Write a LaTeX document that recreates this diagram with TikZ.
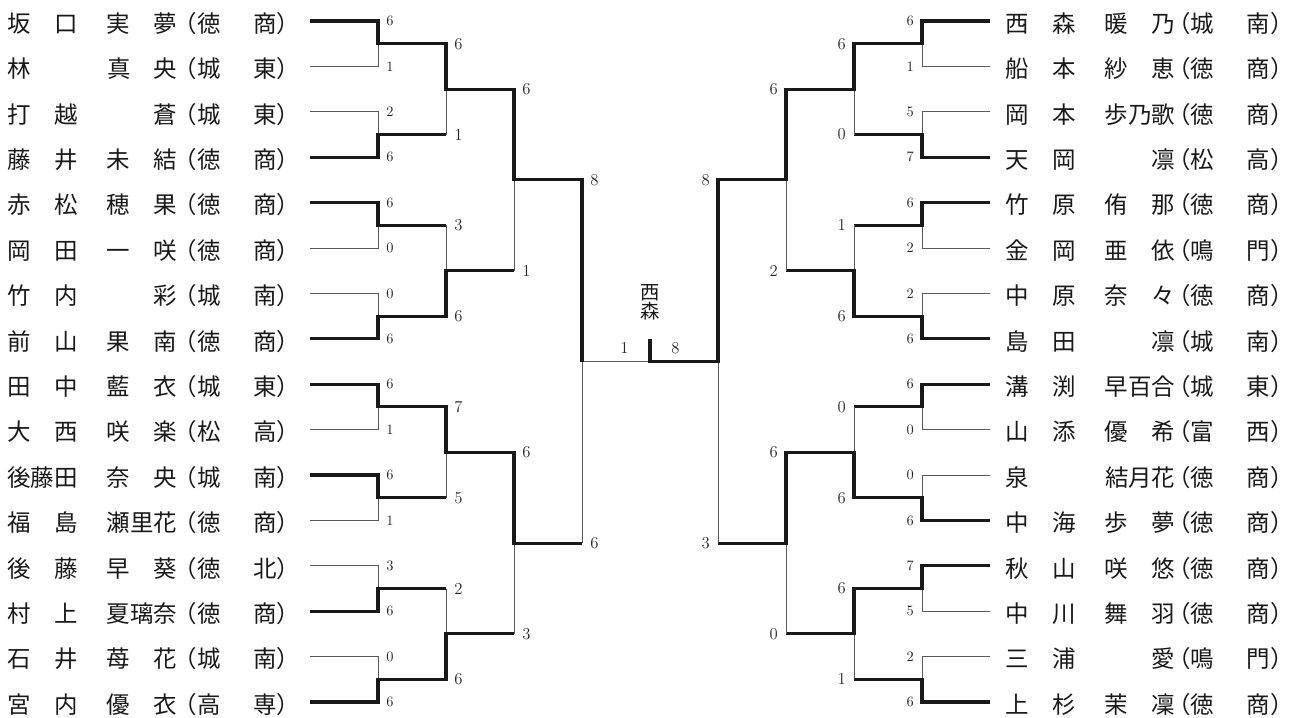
\documentclass[tikz,border=0pt]{standalone}
\usepackage{fontspec}
\usepackage{tikz}
\usepackage{xcolor}
\newfontfamily\jpfont{Noto Sans CJK JP}
\newfontfamily\jphalf[RawFeature=+halt]{Noto Sans CJK JP}
\newlength\pgap
\newcommand\entrant[6]{\makebox[3em][s]{#1\hfill #2}\hspace{1.25em}\makebox[3em][s]{#3\hfill #4}\hspace{\pgap}{\jphalf （}\makebox[3.4em][s]{#5\hfill #6}{\jphalf ）}}

\begin{document}
\begin{tikzpicture}[x=0.75pt,y=-34.05pt,
  win/.style={line width=2.3pt,black!90},
  lose/.style={line width=0.7pt,black!65},
  player/.style={font=\jpfont\fontsize{17.6}{20}\selectfont,inner sep=0pt,text=black!90},
  sc/.style={font=\fontsize{10.8}{12}\selectfont,inner sep=0pt,text=black!85},
  scb/.style={font=\fontsize{12.5}{14}\selectfont,inner sep=0pt,text=black!85}]
  \useasboundingbox (0,0.5374) rectangle (1296,16.352);
  \setlength\pgap{0.6em}
  \foreach \n/\a/\b/\c/\d/\e/\f in {1/坂/口/実/夢/徳/商,2/林//真/央/城/東,3/打/越//蒼/城/東,4/藤/井/未/結/徳/商,
    5/赤/松/穂/果/徳/商,6/岡/田/一/咲/徳/商,7/竹/内//彩/城/南,8/前/山/果/南/徳/商,
    9/田/中/藍/衣/城/東,10/大/西/咲/楽/松/高,11/後藤田//奈/央/城/南,12/福/島/瀬里花//徳/商,
    13/後/藤/早/葵/徳/北,14/村/上/夏璃奈//徳/商,15/石/井/苺/花/城/南,16/宮/内/優/衣/高/専} {
    \node[player,anchor=base west] (L\n) at (7,\n+0.25) {\entrant{\a}{\b}{\c}{\d}{\e}{\f}};
  }
  \setlength\pgap{0.25em}
  \foreach \n/\a/\b/\c/\d/\e/\f in {1/西/森/暖/乃/城/南,2/船/本/紗/恵/徳/商,3/岡/本/歩乃歌//徳/商,4/天/岡//凛/松/高,
    5/竹/原/侑/那/徳/商,6/金/岡/亜/依/鳴/門,7/中/原/奈/々/徳/商,8/島/田//凛/城/南,
    9/溝/渕/早百合//城/東,10/山/添/優/希/富/西,11/泉///結月花/徳/商,12/中/海/歩/夢/徳/商,
    13/秋/山/咲/悠/徳/商,14/中/川/舞/羽/徳/商,15/三/浦//愛/鳴/門,16/上/杉/茉/凜/徳/商} {
    \node[player,anchor=base west] (R\n) at (1005,\n+0.25) {\entrant{\a}{\b}{\c}{\d}{\e}{\f}};
  }

  \foreach \yw/\yl in {1/2,4/3,5/6,8/7,9/10,11/12,14/13,16/15} {
    \draw[lose] (310,\yl) -- (378,\yl) -- (378,{(\yw+\yl)/2});
    \draw[win] (310,\yw) -- (378,\yw) -- (378,{(\yw+\yl)/2}) -- (446,{(\yw+\yl)/2});
  }
  \foreach \xo/\xa/\xb/\yw/\yl in {378/446/514/1.5/3.5,378/446/514/7.5/5.5,378/446/514/9.5/11.5,378/446/514/15.5/13.5,
    446/514/582/2.5/6.5,446/514/582/10.5/14.5} {
    \draw[lose] (\xa,\yl) -- (\xa,{(\yw+\yl)/2});
    \draw[win] (\xo,\yw) -- (\xa,\yw) -- (\xa,{(\yw+\yl)/2}) -- (\xb,{(\yw+\yl)/2});
  }
  \foreach \yw/\yl in {1/2,4/3,5/6,8/7,9/10,12/11,13/14,16/15} {
    \draw[lose] (990,\yl) -- (922,\yl) -- (922,{(\yw+\yl)/2});
    \draw[win] (990,\yw) -- (922,\yw) -- (922,{(\yw+\yl)/2}) -- (854,{(\yw+\yl)/2});
  }
  \foreach \xo/\xa/\xb/\yw/\yl in {922/854/786/1.5/3.5,922/854/786/7.5/5.5,922/854/786/11.5/9.5,922/854/786/13.5/15.5,
    854/786/718/2.5/6.5,854/786/718/10.5/14.5} {
    \draw[lose] (\xa,\yl) -- (\xa,{(\yw+\yl)/2});
    \draw[win] (\xo,\yw) -- (\xa,\yw) -- (\xa,{(\yw+\yl)/2}) -- (\xb,{(\yw+\yl)/2});
  }
  \draw[lose] (582,12.5) -- (582,8.5) -- (650,8.5);
  \draw[win] (514,4.5) -- (582,4.5) -- (582,8.5);
  \draw[lose] (718,12.5) -- (718,8.5);
  \draw[win] (786,4.5) -- (718,4.5) -- (718,8.5) -- (650,8.5) -- (650,8.0);

  \foreach \s [count=\k] in {6,1,2,6,6,0,0,6,6,1,6,1,3,6,0,6}
    \node[sc,anchor=west] (la\k) at (386,\k) {\s};
  \foreach \s [count=\k] in {6,1,3,6,7,5,2,6}
    \node[scb,anchor=west] (lb\k) at (454,2*\k-0.5) {\s};
  \foreach \s [count=\k] in {6,1,6,3}
    \node[scb,anchor=west] (lc\k) at (522,4*\k-1.5) {\s};
  \foreach \s [count=\k] in {8,6}
    \node[scb,anchor=west] (ld\k) at (590,8*\k-3.5) {\s};
  \foreach \s [count=\k] in {6,1,5,7,6,2,2,6,6,0,0,6,7,5,2,6}
    \node[sc,anchor=east] (ra\k) at (914,\k) {\s};
  \foreach \s [count=\k] in {6,0,1,6,0,6,6,1}
    \node[scb,anchor=east] (rb\k) at (846,2*\k-0.5) {\s};
  \foreach \s [count=\k] in {6,2,6,0}
    \node[scb,anchor=east] (rc\k) at (778,4*\k-1.5) {\s};
  \foreach \s [count=\k] in {8,3}
    \node[scb,anchor=east] (rd\k) at (710,8*\k-3.5) {\s};

  \node[scb] (fl) at (624.5,8.2) {1};
  \node[scb] (fr) at (675.5,8.2) {8};
  \node[player,font=\jpfont\fontsize{14.5}{14.6}\selectfont,align=center] (champ) at (650,7.19) {西\\森};
\end{tikzpicture}
\end{document}
